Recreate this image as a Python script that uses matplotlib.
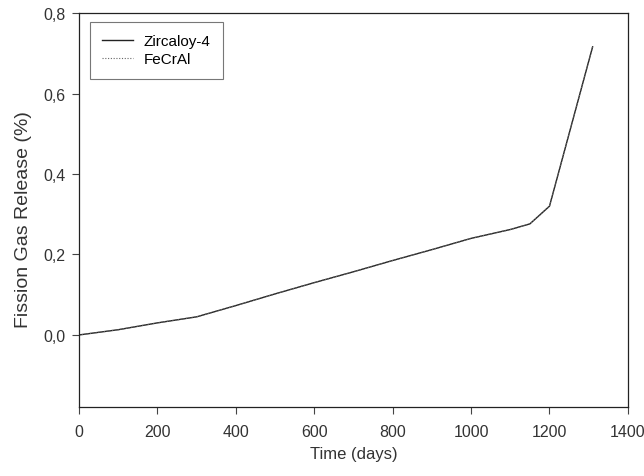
import matplotlib
matplotlib.use("Agg")
import matplotlib.pyplot as plt
from matplotlib.ticker import FuncFormatter

plt.rcParams['font.family'] = ['Liberation Sans', 'DejaVu Sans']

days = [0, 100, 200, 300, 400, 500, 600, 700, 800, 900, 1000, 1100, 1150, 1200, 1310]
zircaloy = [0.0, 0.013, 0.030, 0.045, 0.073, 0.102, 0.130, 0.157, 0.185, 0.212, 0.240, 0.262, 0.276, 0.320, 0.716]
fecral = [0.0, 0.013, 0.030, 0.045, 0.073, 0.102, 0.130, 0.157, 0.185, 0.212, 0.240, 0.262, 0.276, 0.320, 0.716]

xticks = [0, 200, 400, 600, 800, 1000, 1200, 1400]
yticks = [0.0, 0.2, 0.4, 0.6, 0.8]

fig = plt.figure(figsize=(6.44, 4.77), dpi=100)
ax = fig.add_axes([0.1227, 0.1447, 0.8523, 0.8259])
ax.plot(days, zircaloy, color='#222222', lw=1.0, ls='-', label='Zircaloy-4')
ax.plot(days, fecral, color='#666666', lw=0.8, ls=(0, (1, 1.5)), label='FeCrAl')
ax.set_xlim(0, 1400)
ax.set_ylim(-0.179, 0.8)
ax.set_xticks(xticks)
ax.set_yticks(yticks)
ax.yaxis.set_major_formatter(FuncFormatter(lambda v, p: f"{v:.1f}".replace('.', ',')))
ax.tick_params(direction='out', length=5, width=0.8, color='#444444', labelsize=11.5,
               labelcolor='#333333')
ax.tick_params(axis='x', pad=7)
ax.tick_params(axis='y', pad=5)
for s in ax.spines.values():
    s.set_linewidth(0.9)
    s.set_color('#222222')
ax.set_xlabel('Time (days)', fontsize=12, color='#333333')
ax.set_ylabel('Fission Gas Release (%)', fontsize=14, color='#333333')
ax.xaxis.set_label_coords(0.5, -0.099)
ax.yaxis.set_label_coords(-0.085, 0.477)
leg = ax.legend(loc='upper left', fontsize=11, frameon=True, fancybox=False, handlelength=2.0,
                handletextpad=0.7, labelspacing=0.3, borderpad=0.8, borderaxespad=0,
                bbox_to_anchor=(0.02, 0.978))
leg.get_frame().set_edgecolor('#555555')
leg.get_frame().set_linewidth(0.8)
fig.savefig('out.png', dpi=100)
